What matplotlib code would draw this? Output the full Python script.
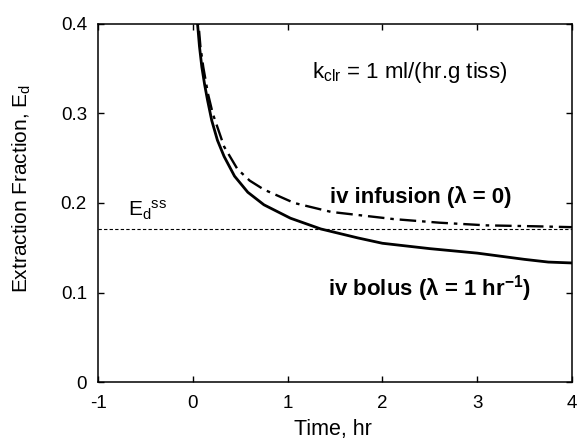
import matplotlib
matplotlib.use("Agg")
import matplotlib.pyplot as plt
from matplotlib.ticker import FuncFormatter

plt.rcParams['font.family'] = ['Liberation Sans', 'DejaVu Sans']
plt.rcParams['mathtext.fontset'] = 'custom'
plt.rcParams['mathtext.rm'] = 'Liberation Sans'
plt.rcParams['mathtext.it'] = 'Liberation Sans:italic'
plt.rcParams['mathtext.bf'] = 'Liberation Sans:bold'
plt.rcParams['axes.unicode_minus'] = False

# Data
t_bolus = [0.04, 0.05, 0.07, 0.095, 0.125, 0.155, 0.2, 0.26, 0.33, 0.44, 0.58, 0.75, 1.03,
           1.35, 1.74, 2.0, 2.5, 3.0, 3.5, 3.75, 4.0]
E_bolus = [0.45, 0.40, 0.375, 0.352, 0.332, 0.315, 0.292, 0.270, 0.252, 0.230, 0.212, 0.198, 0.183,
           0.171, 0.161, 0.155, 0.149, 0.144, 0.137, 0.134, 0.133]

t_infusion = [0.045, 0.06, 0.08, 0.11, 0.16, 0.21, 0.33, 0.47, 0.6, 0.75, 1.07, 1.46, 2.12,
              2.6, 3.1, 3.6, 4.0]
E_infusion = [0.45, 0.40, 0.375, 0.352, 0.322, 0.300, 0.263, 0.238, 0.225, 0.215, 0.200, 0.190, 0.182,
              0.178, 0.175, 0.174, 0.173]

E_ss = 0.171

x_ticks = [-1, 0, 1, 2, 3, 4]
y_ticks = [0, 0.1, 0.2, 0.3, 0.4]

fig = plt.figure(figsize=(5.78, 4.40), dpi=100)
ax = fig.add_axes([0.1696, 0.1318, 0.8200, 0.8137])

ax.axhline(E_ss, color='black', lw=0.8, ls=(0, (3, 2)))
ax.plot(t_infusion, E_infusion, color='black', lw=1.7, ls=(0, (7, 2.5, 1.5, 2.5)))
ax.plot(t_bolus, E_bolus, color='black', lw=2.0, ls='-')

ax.set_xlim(-1, 4)
ax.set_ylim(0, 0.4)
ax.set_xticks(x_ticks)
ax.set_yticks(y_ticks)
ax.yaxis.set_major_formatter(FuncFormatter(lambda v, p: '%g' % v))
ax.xaxis.set_major_formatter(FuncFormatter(lambda v, p: '%g' % v))
ax.tick_params(direction='in', top=True, right=True, length=4, width=1,
               labelsize=13.5)
ax.tick_params(axis='x', pad=9)
ax.tick_params(axis='y', pad=8)
for s in ax.spines.values():
    s.set_linewidth(1.1)

ax.set_xlabel('Time, hr', fontsize=15.5)
ax.set_ylabel(r'Extraction Fraction, E$_{\mathregular{d}}$', fontsize=15)
ax.yaxis.set_label_coords(-0.138, 0.54)
ax.xaxis.set_label_coords(0.495, -0.104)

ax.text(1.26, 0.346, r'k$_{\mathregular{clr}}$ = 1 ml/(hr.g tiss)', fontsize=16,
        ha='left', va='center')
ax.text(1.45, 0.207, 'iv infusion (λ = 0)', fontsize=16, fontweight='bold',
        ha='left', va='center')
ax.text(1.43, 0.104, r'iv bolus (λ = 1 hr$^{\mathbf{-1}}$)', fontsize=16,
        fontweight='bold', ha='left', va='center')
ax.text(-0.68, 0.192, r'E$_{\mathregular{d}}$$^{\mathregular{ss}}$', fontsize=15,
        ha='left', va='center')

fig.savefig('out.png', dpi=100)
